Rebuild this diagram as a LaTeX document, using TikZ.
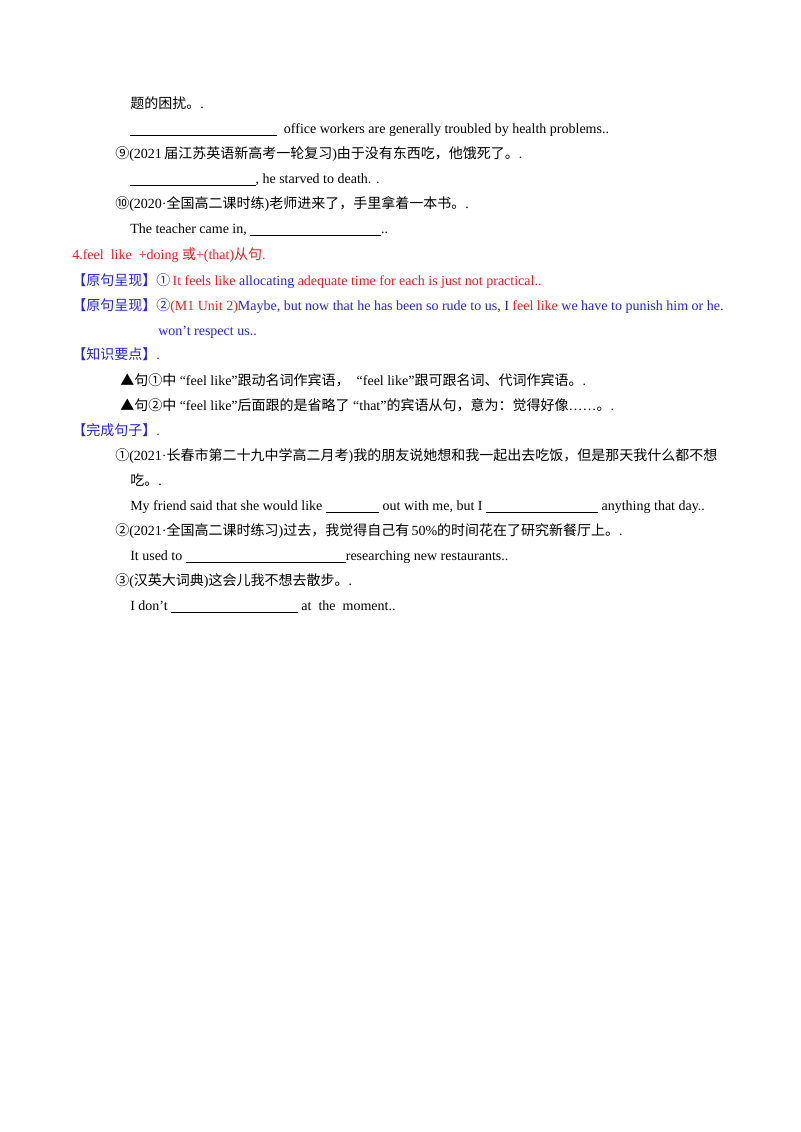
\documentclass[tikz,border=0pt]{standalone}
\usepackage{fontspec}
\setmainfont{Liberation Serif}
\newfontfamily\cjkf{Noto Sans CJK SC}
\newcommand{\cj}[1]{{\cjkf #1}}
\newcommand{\bl}[1]{\underline{\makebox[#1]{}}}
\definecolor{myred}{RGB}{235,30,35}
\definecolor{myblue}{RGB}{35,35,225}
\tikzset{ln/.style={anchor=base west,inner sep=0pt,font=\fontsize{10.5}{12}\selectfont}}
\begin{document}
\begin{tikzpicture}[x=0.75pt,y=-0.75pt]
\useasboundingbox (0,0) rectangle (800,1132);
\node[ln] (a1) at (130,108) {\cj{题的困扰。}.};
\node[ln] (a2) at (130,133) {\bl{110pt}\ \ office workers are generally troubled by health problems..};
\node[ln] (a3) at (115,158) {\cj{⑨}(2021\,\cj{届江苏英语新高考一轮复习})\cj{由于没有东西吃，他饿死了。}.};
\node[ln] (a4) at (130,183) {\bl{94pt}, he starved to death. .};
\node[ln] (a5) at (115,208) {\cj{⑩}(2020·\cj{全国高二课时练})\cj{老师进来了，手里拿着一本书。}.};
\node[ln] (a6) at (130,233) {The teacher came in, \bl{98pt}..};
\node[ln,text=myred] (b1) at (72,259) {4.feel\ \ like\ \ +doing \cj{或}+(that)\cj{从句}.};
\node[ln] (b2) at (72,285) {\textcolor{myblue}{\cj{【原句呈现】①}}\,\textcolor{myred}{It feels like} \textcolor{myblue}{allocating} \textcolor{myred}{adequate time for each is just not practical..}};
\node[ln] (b3) at (72,310) {\textcolor{myblue}{\cj{【原句呈现】②}}\textcolor{myred}{(M1 Unit 2)}\textcolor{myblue}{Maybe, but now that he has been so rude to us, I} \textcolor{myred}{feel like} \textcolor{myblue}{we have to punish him or he.}};
\node[ln,text=myblue] (b4) at (158,335) {won’t respect us..};
\node[ln,text=myblue] (c1) at (72,359) {\cj{【知识要点】}.};
\node[ln] (c2) at (120,385) {\cj{▲句①中}\ “feel like”\cj{跟动名词作宾语，}\ \ “feel like”\cj{跟可跟名词、代词作宾语。}.};
\node[ln] (c3) at (120,410) {\cj{▲句②中}\ “feel like”\cj{后面跟的是省略了}\ “that”\cj{的宾语从句，意为：觉得好像}……\cj{。}.};
\node[ln,text=myblue] (d1) at (72,435) {\cj{【完成句子】}.};
\node[ln] (d2) at (115,460) {\cj{①}(2021·\cj{长春市第二十九中学高二月考})\cj{我的朋友说她想和我一起出去吃饭，但是那天我什么都不想}};
\node[ln] (d3) at (130,485) {\cj{吃。}.};
\node[ln] (d4) at (130,510) {My friend said that she would like \bl{40pt} out with me, but I \bl{84pt} anything that day..};
\node[ln] (d5) at (115,535) {\cj{②}(2021·\cj{全国高二课时练习})\cj{过去，我觉得自己有}\,50\%\cj{的时间花在了研究新餐厅上。}.};
\node[ln] (d6) at (130,560) {It used to \bl{120pt}researching new restaurants..};
\node[ln] (d7) at (115,585) {\cj{③}(\cj{汉英大词典})\cj{这会儿我不想去散步。}.};
\node[ln] (d8) at (130,610) {I don’t \bl{95pt} at\ \ the\ \ moment..};
\end{tikzpicture}
\end{document}
